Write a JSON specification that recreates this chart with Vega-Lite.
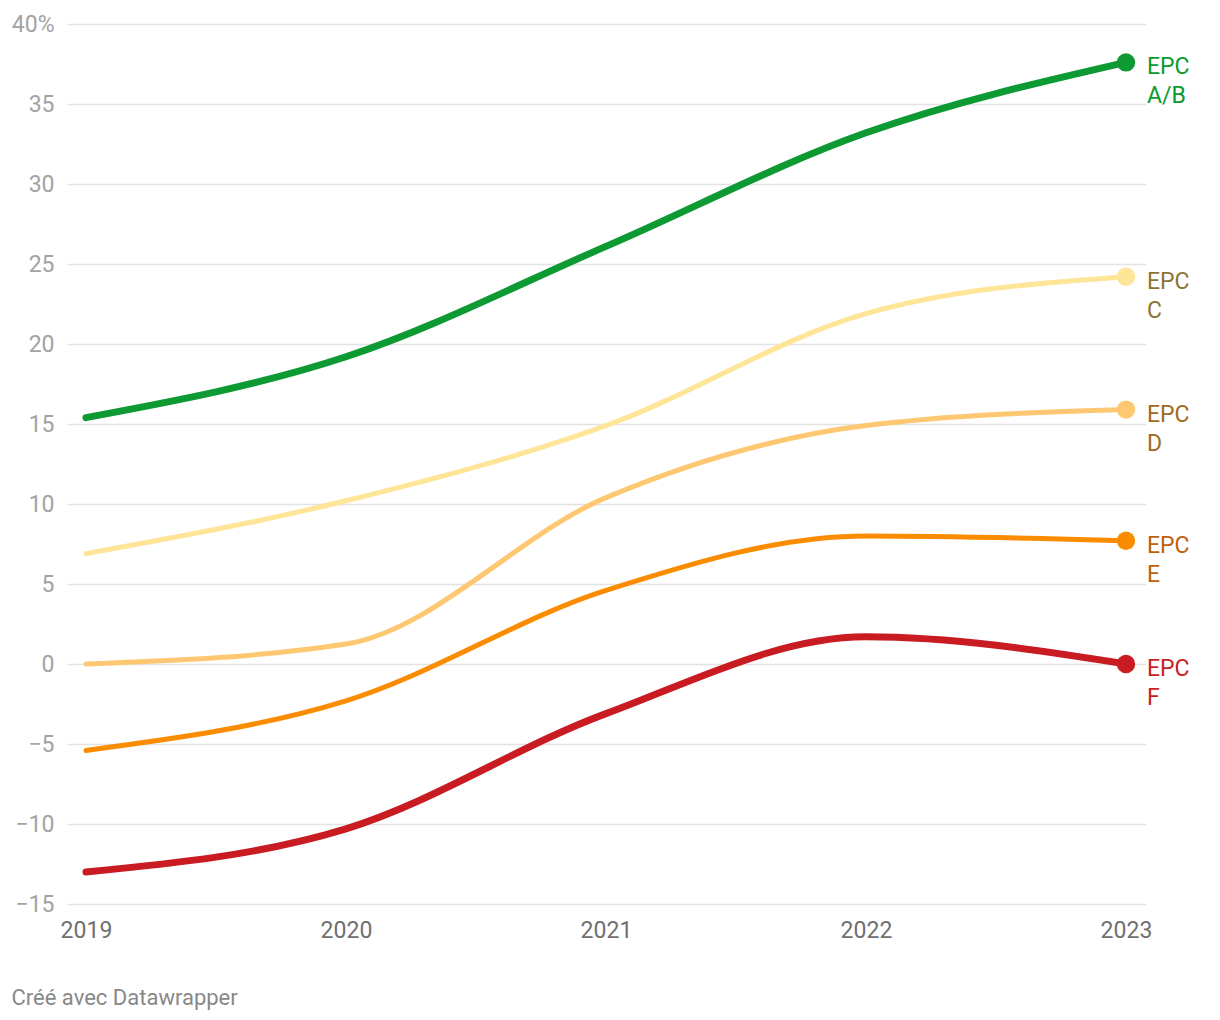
{
  "$schema": "https://vega.github.io/schema/vega-lite/v6.json",
  "width": 1079,
  "height": 880,
  "autosize": {"type": "none"},
  "padding": {"left": 67, "top": 24, "right": 74, "bottom": 116},
  "background": "white",
  "config": {
    "view": {"stroke": null},
    "font": "Roboto",
    "axis": {"labelFont": "Roboto", "titleFont": "Roboto"}
  },
  "data": {
    "values": [
      {"series": "EPC A/B", "year": 2019, "value": 15.4},
      {"series": "EPC A/B", "year": 2020, "value": 19.2},
      {"series": "EPC A/B", "year": 2021, "value": 26.1},
      {"series": "EPC A/B", "year": 2022, "value": 33.2},
      {"series": "EPC A/B", "year": 2023, "value": 37.6},
      {"series": "EPC C", "year": 2019, "value": 6.9},
      {"series": "EPC C", "year": 2020, "value": 10.2},
      {"series": "EPC C", "year": 2021, "value": 14.9},
      {"series": "EPC C", "year": 2022, "value": 21.9},
      {"series": "EPC C", "year": 2023, "value": 24.2},
      {"series": "EPC D", "year": 2019, "value": 0.0},
      {"series": "EPC D", "year": 2020, "value": 1.25},
      {"series": "EPC D", "year": 2021, "value": 10.4},
      {"series": "EPC D", "year": 2022, "value": 14.9},
      {"series": "EPC D", "year": 2023, "value": 15.9},
      {"series": "EPC E", "year": 2019, "value": -5.4},
      {"series": "EPC E", "year": 2020, "value": -2.3},
      {"series": "EPC E", "year": 2021, "value": 4.6},
      {"series": "EPC E", "year": 2022, "value": 8.0},
      {"series": "EPC E", "year": 2023, "value": 7.7},
      {"series": "EPC F", "year": 2019, "value": -13.0},
      {"series": "EPC F", "year": 2020, "value": -10.3},
      {"series": "EPC F", "year": 2021, "value": -3.1},
      {"series": "EPC F", "year": 2022, "value": 1.7},
      {"series": "EPC F", "year": 2023, "value": 0.0}
    ]
  },
  "encoding": {
    "x": {
      "field": "year",
      "type": "quantitative",
      "scale": {"domain": [2018.927, 2023.077], "nice": false, "zero": false},
      "axis": {
        "values": [2019, 2020, 2021, 2022, 2023],
        "format": "d",
        "grid": false,
        "domain": false,
        "ticks": false,
        "labelFlush": false,
        "labelFontSize": 23,
        "labelColor": "#707070",
        "labelPadding": 15,
        "title": "Créé avec Datawrapper",
        "titleFontSize": 22,
        "titleFontWeight": "normal",
        "titleColor": "#888888",
        "titleAnchor": "start",
        "titleAlign": "left",
        "titleBaseline": "middle",
        "titleX": -56,
        "titleY": 93
      }
    },
    "y": {
      "field": "value",
      "type": "quantitative",
      "scale": {"domain": [-15, 40], "nice": false},
      "axis": {
        "values": [-15, -10, -5, 0, 5, 10, 15, 20, 25, 30, 35, 40],
        "labelExpr": "datum.value == 40 ? '40%' : datum.label",
        "grid": true,
        "gridColor": "#e3e3e3",
        "gridWidth": 1.5,
        "domain": false,
        "ticks": false,
        "labelFontSize": 23,
        "labelColor": "#a3a3a3",
        "labelPadding": 13,
        "title": null
      }
    }
  },
  "layer": [
    {
      "mark": {"type": "line", "interpolate": "monotone", "strokeCap": "round"},
      "encoding": {
        "color": {
          "field": "series",
          "type": "nominal",
          "scale": {
            "domain": ["EPC A/B", "EPC C", "EPC D", "EPC E", "EPC F"],
            "range": ["#0d9a32", "#fee597", "#fec873", "#fb8c00", "#c81c22"]
          },
          "legend": null
        },
        "strokeWidth": {
          "condition": {"test": "datum.series == 'EPC A/B' || datum.series == 'EPC F'", "value": 7},
          "value": 5
        }
      }
    },
    {
      "mark": {"type": "rule", "color": "#111111", "strokeWidth": 2},
      "encoding": {"y": {"datum": 0}}
    },
    {
      "transform": [{"filter": "datum.year == 2023"}],
      "mark": {"type": "point", "filled": true, "opacity": 1, "size": 340},
      "encoding": {
        "color": {
          "field": "series",
          "type": "nominal",
          "scale": {
            "domain": ["EPC A/B", "EPC C", "EPC D", "EPC E", "EPC F"],
            "range": ["#0d9a32", "#fee597", "#fec873", "#fb8c00", "#c81c22"]
          },
          "legend": null
        }
      }
    },
    {
      "transform": [{"filter": "datum.year == 2023"}],
      "mark": {
        "type": "text",
        "align": "left",
        "baseline": "top",
        "dx": 21,
        "dy": -6,
        "fontSize": 23,
        "lineBreak": " ",
        "lineHeight": 29
      },
      "encoding": {
        "text": {"field": "series"},
        "color": {
          "field": "series",
          "type": "nominal",
          "scale": {
            "domain": ["EPC A/B", "EPC C", "EPC D", "EPC E", "EPC F"],
            "range": ["#0a9a2e", "#8c7434", "#a06a1c", "#c0600a", "#c81e24"]
          },
          "legend": null
        }
      }
    }
  ],
  "resolve": {"scale": {"color": "independent"}}
}
